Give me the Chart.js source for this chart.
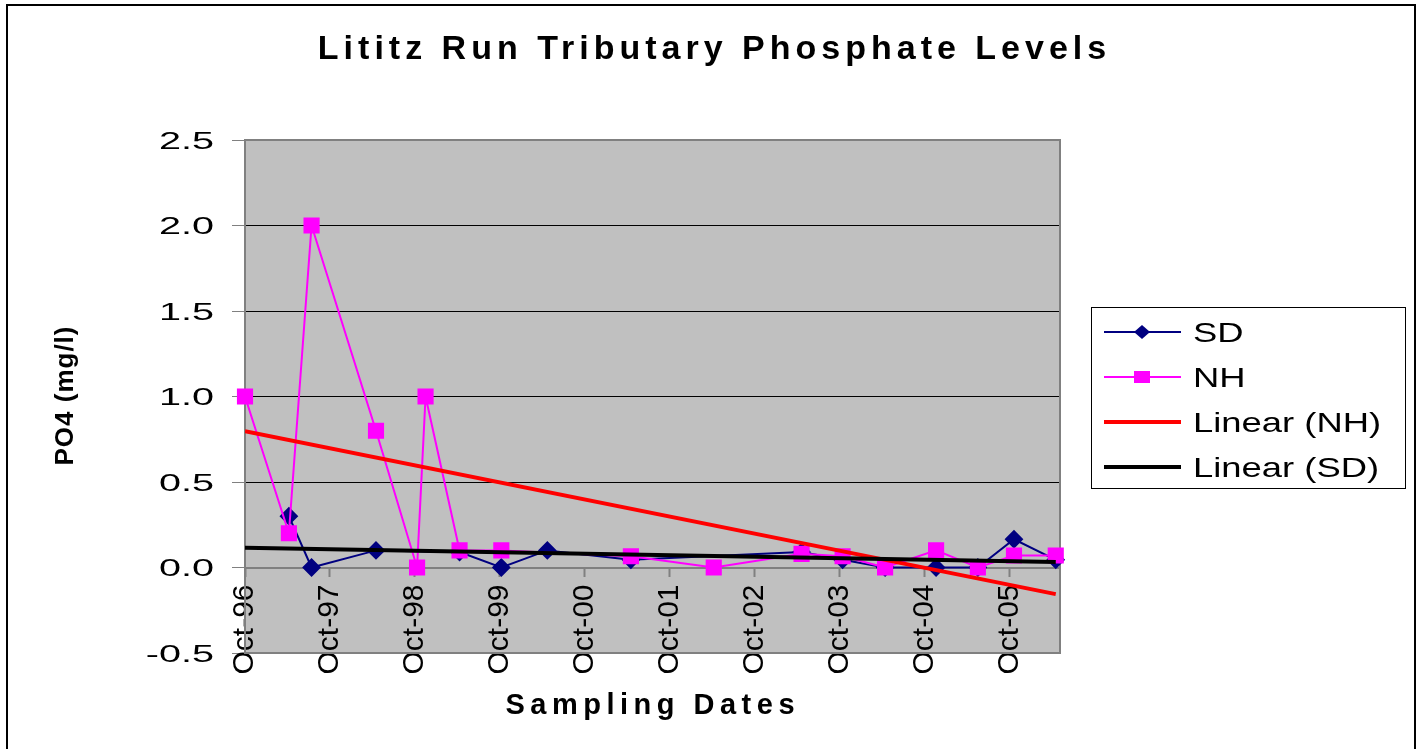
<!DOCTYPE html>
<html>
<head>
<meta charset="utf-8">
<title>Lititz Run Tributary Phosphate Levels</title>
<script src="https://cdn.jsdelivr.net/npm/chart.js@4.4.1/dist/chart.umd.min.js"></script>
<style>
  html, body { margin: 0; padding: 0; background: #fff; }
  canvas { display: block; }
</style>
</head>
<body>
<canvas id="chart" width="1425" height="749"></canvas>
<script>
// sampling dates, counted in months after the first sample (Oct-96)
const sampleMonths = [0, 6.2, 9.4, 18.5, 24.3, 25.5, 30.3, 36.2, 42.7, 54.5, 66.2, 78.6, 84.4, 90.4, 97.6, 103.5, 108.6, 114.5];
// PO4 in mg/l, null where a site was not sampled
const sdValues = [null, 0.3, 0.0, 0.1, null, null, 0.09, 0.0, 0.1, 0.045, null, 0.09, 0.045, 0.0, 0.0, 0.0, 0.165, 0.045];
const nhValues = [1.0, 0.2, 2.0, 0.8, 0.0, 1.0, 0.1, 0.1, null, 0.066, 0.0, 0.08, 0.066, 0.0, 0.1, 0.0, 0.07, 0.07];
const xTickLabels = ['Oct-96', 'Oct-97', 'Oct-98', 'Oct-99', 'Oct-00', 'Oct-01', 'Oct-02', 'Oct-03', 'Oct-04', 'Oct-05'];
const xMaxMonth = 115.1;

const FONT = '"Liberation Sans", Arial, sans-serif';

// least squares line through the sampled points of one series
function linearFit(xs, ys) {
    let n = 0, sx = 0, sy = 0, sxx = 0, sxy = 0;
    xs.forEach((x, i) => {
        if (ys[i] === null) return;
        n++; sx += x; sy += ys[i]; sxx += x * x; sxy += x * ys[i];
    });
    const slope = (n * sxy - sx * sy) / (n * sxx - sx * sx);
    const icpt = (sy - slope * sx) / n;
    const x0 = xs[0], x1 = xs[xs.length - 1];
    return [{ x: x0, y: icpt + slope * x0 }, { x: x1, y: icpt + slope * x1 }];
}

function toPoints(values) {
    return sampleMonths.map((m, i) => ({ x: m, y: values[i] }));
}

// plain text helper, with optional letter spacing / horizontal stretch
function drawLabel(ctx, text, x, y, opts) {
    const spacing = opts.spacing || 0;
    ctx.save();
    ctx.font = opts.font;
    ctx.fillStyle = '#000';
    ctx.textAlign = 'left';
    ctx.textBaseline = 'alphabetic';
    const w = ctx.measureText(text).width + spacing * (text.length - 1);
    ctx.letterSpacing = spacing + 'px';
    ctx.translate(x, y);
    if (opts.rotate) ctx.rotate(opts.rotate);
    ctx.scale(opts.stretch || 1, 1);
    let left = 0;
    if (opts.align === 'center') left = -w / 2;
    else if (opts.align === 'right') left = -w;
    ctx.fillText(text, left, 0);
    ctx.restore();
}

const frame = {
    id: 'frame',
    beforeDraw(chart) {
        const { ctx, chartArea: a } = chart;
        ctx.save();
        ctx.fillStyle = '#fff';
        ctx.fillRect(0, 0, chart.width, chart.height);
        ctx.fillStyle = '#C0C0C0';
        ctx.fillRect(a.left, a.top, a.right - a.left, a.bottom - a.top);
        ctx.restore();
    },
    beforeDatasetsDraw(chart) {
        const { ctx, chartArea: a } = chart;
        ctx.save();
        ctx.strokeStyle = '#808080';
        ctx.lineWidth = 2;
        ctx.strokeRect(a.left, a.top, a.right - a.left, a.bottom - a.top);
        ctx.restore();
    },
    afterDraw(chart) {
        const ctx = chart.ctx;
        const yScale = chart.scales.y;

        // outer border of the chart
        ctx.save();
        ctx.strokeStyle = '#000';
        ctx.lineWidth = 2;
        ctx.strokeRect(7, 5, 1408, 800);
        ctx.restore();

        drawLabel(ctx, 'Lititz Run Tributary Phosphate Levels', 712, 59,
            { font: 'bold 34px ' + FONT, spacing: 5, align: 'center' });
        drawLabel(ctx, 'Sampling Dates', 650, 714,
            { font: 'bold 29px ' + FONT, spacing: 5.5, align: 'center' });
        drawLabel(ctx, 'PO4 (mg/l)', 73, 396,
            { font: 'bold 26px ' + FONT, spacing: 1, align: 'center', rotate: -Math.PI / 2 });

        // y tick labels
        yScale.ticks.forEach(t => {
            const py = yScale.getPixelForValue(t.value);
            drawLabel(ctx, t.value.toFixed(1), 214, py + 8.5,
                { font: '24px ' + FONT, stretch: 1.65, align: 'right' });
        });

        // legend
        const lx = 1091, ly = 307, lw = 314, lh = 181;
        ctx.save();
        ctx.fillStyle = '#fff';
        ctx.fillRect(lx, ly, lw, lh);
        ctx.strokeStyle = '#000';
        ctx.lineWidth = 1;
        ctx.strokeRect(lx + 0.5, ly + 0.5, lw, lh);
        chart.data.datasets.forEach((ds, i) => {
            const ry = 332 + i * 45;
            ctx.strokeStyle = ds.borderColor;
            ctx.lineWidth = ds.borderWidth;
            ctx.beginPath();
            ctx.moveTo(1104, ry);
            ctx.lineTo(1181, ry);
            ctx.stroke();
            ctx.fillStyle = ds.borderColor;
            if (ds.pointStyle === 'rectRot') {
                ctx.beginPath();
                ctx.moveTo(1142, ry - 7);
                ctx.lineTo(1150, ry);
                ctx.lineTo(1142, ry + 7);
                ctx.lineTo(1134, ry);
                ctx.closePath();
                ctx.fill();
            } else if (ds.pointStyle === 'rect') {
                ctx.fillRect(1134, ry - 6, 16, 12);
            }
            drawLabel(ctx, ds.label, 1193, ry + 10,
                { font: '28px ' + FONT, stretch: 1.3 });
        });
        ctx.restore();
    }
};

new Chart(document.getElementById('chart'), {
    type: 'line',
    data: {
        datasets: [
            {
                label: 'SD',
                data: toPoints(sdValues),
                borderColor: '#000080',
                backgroundColor: '#000080',
                borderWidth: 2,
                pointStyle: 'rectRot',
                pointRadius: 8,
                spanGaps: true,
                clip: false,
                order: 3
            },
            {
                label: 'NH',
                data: toPoints(nhValues),
                borderColor: '#FF00FF',
                backgroundColor: '#FF00FF',
                borderWidth: 2,
                pointStyle: 'rect',
                pointRadius: 10,
                spanGaps: true,
                clip: false,
                order: 2
            },
            {
                label: 'Linear (NH)',
                data: linearFit(sampleMonths, nhValues),
                borderColor: '#FF0000',
                borderWidth: 4,
                pointRadius: 0,
                order: 1
            },
            {
                label: 'Linear (SD)',
                data: linearFit(sampleMonths, sdValues),
                borderColor: '#000000',
                borderWidth: 4,
                pointRadius: 0,
                order: 0
            }
        ]
    },
    options: {
        responsive: false,
        animation: false,
        layout: { padding: { left: 232, top: 140, right: 365, bottom: 96 } },
        plugins: {
            legend: { display: false },
            title: { display: false },
            tooltip: { enabled: false }
        },
        scales: {
            x: {
                type: 'linear',
                position: { y: 0 },
                min: 0,
                max: xMaxMonth,
                grid: {
                    display: true,
                    drawOnChartArea: false,
                    tickLength: 8,
                    tickColor: '#808080',
                    tickWidth: 2
                },
                border: { color: '#808080', width: 2 },
                ticks: {
                    stepSize: 12,
                    includeBounds: false,
                    autoSkip: false,
                    minRotation: 90,
                    maxRotation: 90,
                    padding: 9,
                    color: '#000',
                    font: { family: FONT, size: 30 },
                    callback: v => xTickLabels[Math.round(v / 12)]
                }
            },
            y: {
                min: -0.5,
                max: 2.5,
                grid: {
                    tickLength: 13,
                    tickColor: '#808080',
                    lineWidth: 1,
                    color: c => [-0.5, 0, 2.5].includes(c.tick.value) ? '#808080' : '#000000'
                },
                border: { color: '#808080', width: 2 },
                ticks: { stepSize: 0.5, display: false }
            }
        }
    },
    plugins: [frame]
});
</script>
</body>
</html>
